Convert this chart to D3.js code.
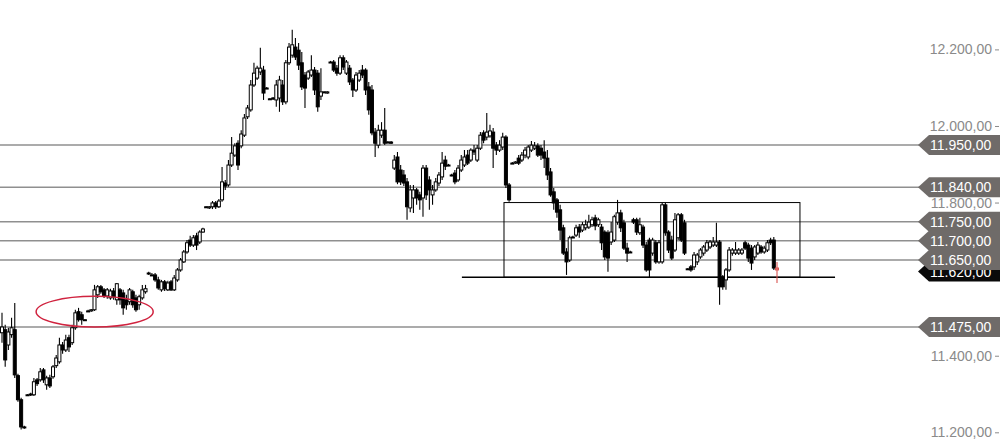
<!DOCTYPE html>
<html><head><meta charset="utf-8">
<script src="https://cdn.jsdelivr.net/npm/d3@7/dist/d3.min.js"></script>
<style>html,body{margin:0;padding:0;background:#fff;}svg{display:block;}</style>
</head><body>
<svg id="chart" width="1000" height="448"></svg>
<script>
const open  = [11460,11468,11428,11455,11468,11348,11285,11214,11298,11298,11298,11337,11337,11363,11324,11342,11345,11374,11384,11428,11415,11447,11434,11473,11515,11507,11494,11517,11517,11520,11559,11580,11572,11556,11551,11569,11546,11572,11564,11546,11541,11567,11551,11533,11551,11567,11614,11611,11611,11598,11572,11593,11572,11593,11572,11598,11624,11645,11671,11702,11689,11713,11697,11723,11789,11786,11789,11799,11789,11807,11851,11846,11898,11924,11955,11948,11976,12024,12042,12107,12125,12141,12146,12099,12071,12071,12068,12073,12107,12063,12165,12185,12206,12198,12165,12133,12125,12133,12146,12138,12078,12089,12086,12167,12167,12151,12138,12178,12138,12151,12120,12094,12120,12146,12146,12102,12094,11984,11950,11976,11989,11958,11958,11890,11919,11885,11872,11854,11786,11812,11833,11820,11812,11890,11859,11820,11833,11851,11867,11911,11898,11872,11877,11859,11885,11898,11924,11911,11937,11911,11942,11982,11971,11974,11984,11950,11937,11945,11971,11846,11903,11903,11916,11911,11924,11919,11937,11942,11948,11942,11932,11916,11880,11828,11807,11781,11734,11671,11650,11710,11715,11736,11728,11734,11736,11742,11760,11742,11736,11723,11721,11697,11702,11749,11773,11747,11681,11671,11755,11755,11721,11736,11689,11702,11668,11695,11645,11645,11794,11723,11702,11676,11708,11768,11747,11627,11632,11632,11645,11658,11668,11676,11684,11689,11689,11697,11606,11598,11624,11668,11668,11668,11668,11695,11689,11681,11658,11668,11684,11671,11676,11702,11702,11629];
const high  = [11512,11481,11473,11499,11538,11353,11290,11217,11300,11303,11342,11342,11368,11368,11348,11350,11376,11402,11447,11436,11455,11455,11481,11520,11525,11515,11496,11520,11522,11585,11585,11585,11577,11577,11575,11577,11590,11577,11572,11559,11577,11572,11559,11559,11585,11585,11619,11616,11616,11606,11598,11598,11596,11598,11611,11629,11655,11676,11702,11713,11715,11721,11728,11734,11791,11791,11804,11804,11809,11893,11859,11911,11971,11955,11963,11989,12031,12055,12120,12165,12157,12204,12157,12102,12073,12076,12120,12131,12120,12172,12217,12251,12230,12217,12193,12141,12146,12185,12154,12146,12151,12091,12091,12170,12172,12159,12185,12185,12172,12159,12125,12141,12146,12159,12151,12115,12107,11995,12003,12010,12047,11961,11961,11924,11932,11898,11885,11864,11846,11846,11838,11828,11898,11898,11869,11846,11864,11880,11932,11922,11901,11875,11885,11898,11924,11937,11937,11942,11950,11950,11984,11989,12034,12003,11995,11958,11963,11982,11976,11851,11906,11908,11924,11932,11945,11950,11961,11958,11955,11950,11963,11937,11890,11838,11812,11794,11742,11681,11713,11713,11742,11744,11749,11755,11768,11763,11768,11760,11744,11728,11728,11749,11768,11807,11781,11755,11695,11674,11760,11760,11760,11742,11697,11708,11708,11702,11702,11799,11799,11728,11713,11773,11773,11773,11755,11629,11637,11671,11668,11681,11689,11702,11702,11710,11747,11702,11611,11629,11684,11681,11697,11681,11681,11700,11695,11689,11689,11697,11689,11687,11702,11708,11710,11645];
const low   = [11434,11371,11415,11447,11342,11280,11207,11209,11295,11295,11295,11321,11332,11329,11311,11316,11340,11368,11379,11405,11410,11410,11428,11468,11489,11481,11491,11515,11515,11517,11551,11562,11551,11549,11546,11546,11533,11533,11507,11520,11533,11525,11515,11520,11546,11562,11611,11608,11593,11572,11567,11569,11569,11569,11569,11593,11619,11642,11666,11684,11684,11676,11692,11721,11786,11783,11783,11783,11786,11802,11833,11841,11893,11919,11885,11942,11971,12018,12037,12102,12120,12133,12068,12097,12068,12068,12050,12037,12055,12057,12159,12178,12172,12146,12094,12047,12120,12128,12081,12037,12068,12086,12084,12165,12141,12131,12133,12146,12133,12107,12076,12089,12115,12125,12081,12029,11976,11919,11942,11969,11950,11955,11953,11885,11848,11846,11843,11755,11775,11773,11794,11781,11763,11807,11781,11794,11828,11843,11859,11885,11895,11869,11848,11854,11880,11893,11898,11906,11924,11906,11937,11955,11963,11969,11890,11924,11932,11937,11838,11802,11901,11901,11898,11906,11916,11913,11932,11937,11919,11911,11890,11859,11815,11781,11760,11702,11663,11611,11645,11708,11710,11708,11723,11728,11731,11736,11728,11736,11676,11650,11619,11689,11697,11742,11723,11676,11645,11668,11744,11715,11715,11681,11619,11603,11661,11640,11640,11640,11713,11668,11650,11671,11702,11697,11663,11624,11619,11624,11637,11653,11661,11671,11679,11684,11684,11533,11572,11572,11619,11661,11663,11663,11663,11676,11645,11624,11650,11663,11666,11666,11671,11689,11624,11590];
const close = [11475,11389,11462,11473,11350,11285,11214,11212,11298,11300,11332,11327,11358,11337,11342,11321,11371,11394,11428,11415,11441,11423,11473,11512,11494,11494,11494,11517,11520,11572,11580,11567,11556,11572,11569,11554,11588,11546,11525,11533,11572,11533,11520,11554,11572,11575,11616,11611,11598,11577,11593,11575,11590,11572,11603,11624,11650,11671,11695,11689,11708,11689,11723,11731,11789,11789,11799,11789,11804,11854,11843,11898,11929,11948,11898,11979,12021,12047,12107,12138,12151,12151,12086,12099,12071,12073,12107,12120,12063,12165,12206,12212,12180,12159,12102,12099,12141,12146,12094,12050,12089,12089,12089,12167,12146,12138,12178,12154,12167,12115,12094,12133,12138,12133,12094,12042,11982,11955,11989,11989,11955,11958,11955,11911,11854,11854,11851,11789,11833,11833,11812,11807,11890,11820,11833,11833,11854,11872,11903,11895,11898,11872,11854,11890,11911,11919,11903,11937,11932,11942,11976,11963,11984,11987,11942,11937,11950,11971,11846,11807,11903,11906,11903,11924,11937,11945,11950,11948,11924,11924,11916,11872,11820,11799,11775,11728,11668,11645,11708,11710,11734,11723,11742,11742,11749,11755,11739,11755,11695,11658,11655,11723,11763,11773,11734,11681,11668,11671,11749,11723,11742,11689,11624,11624,11702,11645,11695,11794,11721,11676,11655,11755,11768,11702,11668,11627,11624,11663,11663,11676,11684,11695,11697,11697,11697,11580,11580,11624,11676,11676,11676,11676,11676,11681,11655,11642,11684,11689,11671,11681,11695,11695,11629,11624];

const levels = [11950, 11840, 11750, 11700, 11650, 11475];
const currentPrice = 11620;
const yTicks = [11200, 11400, 11800, 12000, 12200];
// rectangle (candle index span, price span), support line, ellipse
const boxIdx = [157.4, 250.2], boxPrice = [11605, 11800];
const supportIdx = [144.2, 261.2], supportPrice = 11605;
const ellipseIdx = [10.7, 47.4], ellipsePrice = [11475, 11555];

const svg = d3.select("#chart");
const n = open.length;
const x = d3.scaleLinear().domain([0, n - 1]).range([2, 777]);
const y = d3.scaleLinear().domain([11159, 12329]).range([448, 0]);
const fmt = d3.formatLocale({decimal: ",", thousands: ".", grouping: [3], currency: ["", ""]}).format(",.2f");
const FONT = "Liberation Sans, Arial, sans-serif";

// y tick labels
const ax = svg.append("g");
yTicks.forEach(t => {
  ax.append("text").attr("x", 992).attr("y", y(t)).attr("dy", "0.36em")
    .attr("text-anchor", "end").attr("font-family", FONT).attr("font-size", 14)
    .attr("fill", "#8a8a8a").text(fmt(t));
  ax.append("line").attr("x1", 995).attr("x2", 999).attr("y1", y(t) + 0.5).attr("y2", y(t) + 0.5)
    .attr("stroke", "#8a8a8a").attr("stroke-width", 1);
});

// horizontal level lines
svg.append("g").selectAll("line").data(levels).join("line")
  .attr("x1", 0).attr("x2", 920)
  .attr("y1", d => y(d)).attr("y2", d => y(d))
  .attr("stroke", "#8f8f8f").attr("stroke-width", 1.5);

// rectangle and support
svg.append("rect")
  .attr("x", x(boxIdx[0])).attr("y", y(boxPrice[1]))
  .attr("width", x(boxIdx[1]) - x(boxIdx[0])).attr("height", y(boxPrice[0]) - y(boxPrice[1]))
  .attr("fill", "none").attr("stroke", "#000").attr("stroke-width", 1);
svg.append("line")
  .attr("x1", x(supportIdx[0])).attr("x2", x(supportIdx[1]))
  .attr("y1", y(supportPrice)).attr("y2", y(supportPrice))
  .attr("stroke", "#000").attr("stroke-width", 1.5);

// candles
const bw = 3;
const g = svg.append("g");
const idx = d3.range(n);
const colorOf = i => i === n - 1 ? "#d9534f" : "#000";
g.selectAll("line.w").data(idx).join("line")
  .attr("x1", i => x(i)).attr("x2", i => x(i))
  .attr("y1", i => y(high[i])).attr("y2", i => y(low[i]))
  .attr("stroke", colorOf).attr("stroke-width", 1.1);
g.selectAll("rect.b").data(idx).join("rect")
  .attr("x", i => x(i) - bw / 2)
  .attr("y", i => y(Math.max(open[i], close[i])))
  .attr("width", bw)
  .attr("height", i => Math.max(1, Math.abs(y(open[i]) - y(close[i]))))
  .attr("fill", i => i === n - 1 ? "#e88" : (close[i] >= open[i] ? "#fff" : "#000"))
  .attr("stroke", colorOf).attr("stroke-width", 1);

// ellipse
svg.append("ellipse")
  .attr("cx", (x(ellipseIdx[0]) + x(ellipseIdx[1])) / 2)
  .attr("cy", (y(ellipsePrice[0]) + y(ellipsePrice[1])) / 2)
  .attr("rx", (x(ellipseIdx[1]) - x(ellipseIdx[0])) / 2)
  .attr("ry", (y(ellipsePrice[0]) - y(ellipsePrice[1])) / 2)
  .attr("fill", "none").attr("stroke", "#d0233f").attr("stroke-width", 1.5);

// price labels
function tag(v, fill) {
  const cy = y(v), h = 10;
  svg.append("path")
    .attr("d", `M918,${cy} L929,${cy - h} L1000,${cy - h} L1000,${cy + h} L929,${cy + h} Z`)
    .attr("fill", fill);
  svg.append("text").attr("x", 930).attr("y", cy).attr("dy", "0.36em")
    .attr("font-family", FONT).attr("font-size", 14).attr("fill", "#fff").text(fmt(v));
}
tag(currentPrice, "#0a0a0a");
levels.forEach(v => tag(v, "#6f6b69"));
</script>
</body></html>
